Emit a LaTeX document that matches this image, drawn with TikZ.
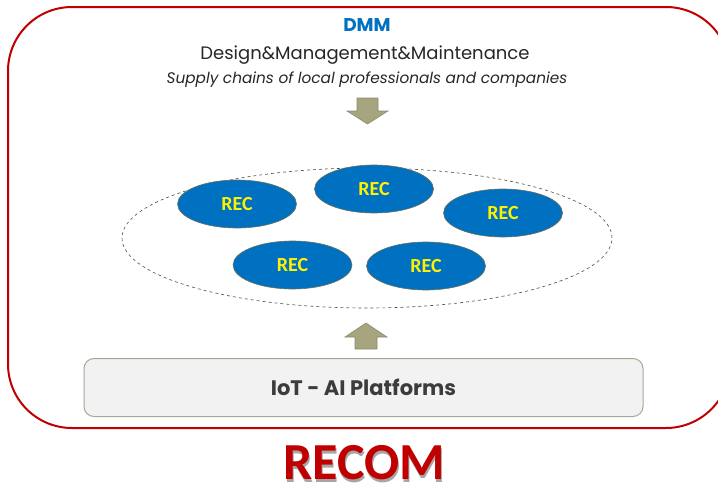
\documentclass[tikz,border=0pt]{standalone}
\usepackage{fontspec}
\setmainfont{Poppins}
\newfontfamily\calib{Carlito}
\usetikzlibrary{shapes.geometric}
\definecolor{recred}{HTML}{C00000}
\definecolor{recblue}{HTML}{0070C0}
\definecolor{khaki}{HTML}{A6A580}
\definecolor{khakiline}{HTML}{8C8B6E}
\definecolor{boxgray}{HTML}{F2F2F2}
\definecolor{boxline}{HTML}{A8A795}
\definecolor{txtgray}{HTML}{262626}
\tikzset{
  recnode/.style={ellipse, draw=khakiline!80!black, line width=0.6pt, fill=recblue,
    minimum width=119pt, minimum height=48pt, inner sep=0pt,
    text=yellow, font=\calib\bfseries\fontsize{20}{24}\selectfont},
  blockarrow/.style={fill=khaki, draw=khakiline, line width=0.6pt, line join=miter}
}
\begin{document}
\begin{tikzpicture}[x=1pt,y=-1pt]
\useasboundingbox (0,0) rectangle (718,490);
% outer frame
\draw[recred, line width=2pt, rounded corners=64pt] (8,7) rectangle (730,428);
% title texts
\node[text=recblue, font=\bfseries\fontsize{18.5}{22}\selectfont, inner sep=0pt] (dmm) at (367,25) {DMM};
\node[text=txtgray, font=\fontsize{18}{21}\selectfont, inner sep=0pt] (dmmfull) at (365,55) {Design\&Management\&Maintenance};
\node[text=txtgray, font=\itshape\fontsize{15.3}{18}\selectfont, inner sep=0pt] (supply) at (367,80) {Supply chains of local professionals and companies};
% down arrow
\draw[blockarrow] (357,98) -- (378,98) -- (378,111) -- (388,111) -- (367.5,124) -- (347,111) -- (357,111) -- cycle;
% dashed ellipse
\node[ellipse, draw=black!70, dashed, line width=0.6pt, minimum width=490pt, minimum height=140pt, inner sep=0pt] (community) at (367,238) {};
% REC nodes
\node[recnode] (rec1) at (237,204) {REC};
\node[recnode] (rec2) at (374,189) {REC};
\node[recnode] (rec3) at (503,213) {REC};
\node[recnode] (rec4) at (292.5,265) {REC};
\node[recnode] (rec5) at (426,266) {REC};
% up arrow
\draw[blockarrow] (355,349) -- (377,349) -- (377,337) -- (387,337) -- (366,323) -- (345,337) -- (355,337) -- cycle;
% platform box
\node[draw=boxline, fill=boxgray, line width=1pt, rounded corners=10pt, minimum width=559pt, minimum height=58pt, inner sep=0pt,
  text=txtgray!90!white, font=\bfseries\fontsize{21}{25}\selectfont] (iot) at (363.5,387.5) {IoT - AI Platforms};
% RECOM
\node[text=black!35, inner sep=0pt, font=\calib\bfseries\fontsize{52}{60}\selectfont] at (365.5,465.5) {RECOM};
\node[text=recred, inner sep=0pt, font=\calib\bfseries\fontsize{52}{60}\selectfont] (recom) at (364,463) {RECOM};
\end{tikzpicture}
\end{document}
